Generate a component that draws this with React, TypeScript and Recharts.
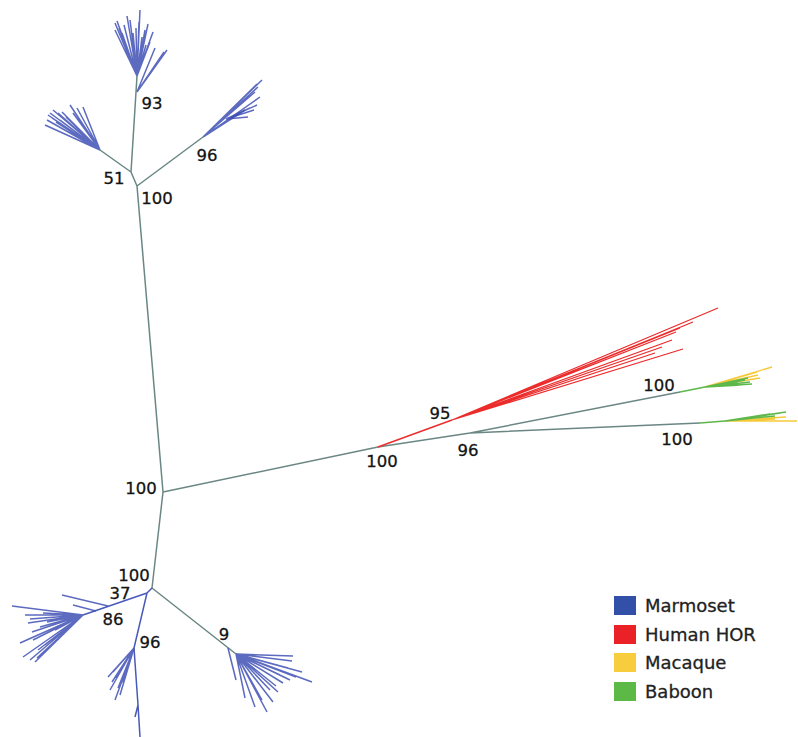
import { ComposedChart, Line, Scatter, XAxis, YAxis, Legend } from 'recharts';

// Tree layout (units = figure pixels, y grows downward)
const nodeNames = ['C', 'T', 'T51', 'T93', 'T93b', 'TL', 'T96', 'T96b', 'B', 'B37', 'B37a', 'B37b', 'B86', 'B96', 'B96s', 'B9', 'B9a', 'R', 'RH', 'R96', 'U', 'Ug', 'L', 'Lg'];
const nodeX = [163, 137, 131, 137, 137, 100, 203, 226, 152, 147, 108, 96, 83, 134, 138, 236, 228, 378, 452, 470, 680, 705, 700, 725];
const nodeY = [492, 186, 172, 76, 92, 150, 137, 119, 588, 593, 606, 611, 615, 648, 705, 654, 648, 447, 420, 433, 392, 387, 423, 421];

const grayEdges = [['C', 'T'], ['T', 'T51'], ['T', 'T96'], ['T51', 'T93'], ['T51', 'TL'], ['C', 'B'], ['B', 'B9'], ['C', 'R'], ['R', 'R96'], ['R96', 'U'], ['R96', 'L']];
const blueEdges = [['B', 'B37'], ['B37', 'B86'], ['B37', 'B96'], ['B96', 'B96s']];
const redEdges = [['R', 'RH']];
const greenEdges = [['U', 'Ug'], ['L', 'Lg']];

// leaf tips, grouped by the node they hang from
const topFanTips = [[115, 23], [117, 21], [119, 28], [122, 33], [124, 25], [127, 16], [130, 20], [133, 33], [136, 28], [140, 10], [142, 37], [145, 30], [148, 24], [150, 42], [153, 32], [146, 45], [115, 30], [139, 22]];
const topFanLowTips = [[167, 50], [162, 55], [158, 61], [155, 48], [164, 52]];
const leftFanTips = [[45, 125], [47, 120], [48, 115], [52, 118], [53, 110], [56, 122], [58, 113], [62, 112], [66, 117], [70, 105], [73, 113], [77, 108], [83, 107], [60, 120], [50, 113]];
const rightFanTips = [[262, 80], [258, 87], [255, 92], [260, 97], [253, 102], [245, 110], [240, 112], [250, 96], [257, 84]];
const rightFanLowTips = [[257, 105], [250, 108], [248, 117], [254, 110]];
const fan86Tips = [[12, 606], [20, 643], [23, 657], [25, 615], [28, 623], [30, 660], [32, 632], [35, 662], [37, 658], [38, 650], [40, 627], [43, 613], [45, 645], [50, 638], [55, 630], [33, 640], [30, 619], [47, 622]];
const fan86LongTips = [[62, 595]];
const fan86Long2Tips = [[73, 605]];
const fan96Tips = [[108, 677], [110, 690], [112, 682], [113, 672], [115, 700], [118, 688], [120, 695], [123, 683], [116, 678]];
const stem96Tips = [[140, 737], [135, 717]];
const fan9Tips = [[293, 656], [292, 661], [288, 668], [302, 672], [296, 677], [312, 682], [280, 675], [283, 683], [278, 692], [270, 690], [273, 702], [267, 712], [262, 700], [255, 707], [245, 698], [290, 680], [276, 686]];
const fan9SideTips = [[236, 680]];
const humanTips = [[718, 308], [693, 322], [680, 328], [676, 332], [672, 340], [662, 347], [683, 349], [655, 353]];
const upperYellowTips = [[772, 367], [758, 375], [760, 378], [757, 372]];
const upperGreenTips = [[750, 382], [752, 384], [742, 385], [745, 380], [738, 383], [748, 378]];
const lowerGreenTips = [[786, 412], [780, 413], [770, 414], [763, 415], [775, 416]];
const lowerYellowTips = [[786, 417], [797, 421], [775, 419], [760, 420]];

const supportText = ['93', '96', '51', '100', '100', '95', '100', '96', '100', '100', '100', '37', '86', '96', '9'];
const supportX = [152, 207, 114, 157, 141, 440, 382, 468, 659, 677, 134, 120, 113, 150, 224];
const supportY = [103, 155, 178, 198, 488, 413, 461, 450, 385, 439, 575, 593, 619, 642, 634];

const legendNames = ['Marmoset', 'Human HOR', 'Macaque', 'Baboon'];
const legendColors = ['#3350a9', '#ea2228', '#f8cd3d', '#5cb946'];

const GRAY = '#6a8784';
const BLUE = '#3f50b4';
const RED = '#ec2b2b';
const YELLOW = '#f5c93a';
const GREEN = '#5cb84a';

const node = (name: string) => {
  const i = nodeNames.indexOf(name);
  return { x: nodeX[i], y: nodeY[i] };
};

type Pt = { x: number; y: number | null };

function edgePoints(edges: string[][]): Pt[] {
  const out: Pt[] = [];
  edges.forEach(([a, b]) => {
    const p = node(a);
    const q = node(b);
    out.push(p, q, { x: q.x, y: null });
  });
  return out;
}

function fanPoints(base: string, tips: number[][]): Pt[] {
  const p = node(base);
  const out: Pt[] = [];
  tips.forEach(([x, y]) => {
    out.push(p, { x, y }, { x, y: null });
  });
  return out;
}

const series: { key: string; color: string; width: number; opacity: number; data: Pt[] }[] = [
  { key: 'gray', color: GRAY, width: 1.5, opacity: 1, data: edgePoints(grayEdges) },
  { key: 'blueEdges', color: BLUE, width: 1.5, opacity: 0.95, data: edgePoints(blueEdges) },
  { key: 'topFan', color: BLUE, width: 1.5, opacity: 0.85, data: fanPoints('T93', topFanTips) },
  { key: 'topFanLow', color: BLUE, width: 1.5, opacity: 0.85, data: fanPoints('T93b', topFanLowTips) },
  { key: 'leftFan', color: BLUE, width: 1.5, opacity: 0.85, data: fanPoints('TL', leftFanTips) },
  { key: 'rightFan', color: BLUE, width: 1.5, opacity: 0.85, data: fanPoints('T96', rightFanTips) },
  { key: 'rightFanLow', color: BLUE, width: 1.5, opacity: 0.85, data: fanPoints('T96b', rightFanLowTips) },
  { key: 'fan86', color: BLUE, width: 1.5, opacity: 0.85, data: fanPoints('B86', fan86Tips) },
  { key: 'fan86Long', color: BLUE, width: 1.4, opacity: 0.85, data: fanPoints('B37a', fan86LongTips) },
  { key: 'fan86Long2', color: BLUE, width: 1.4, opacity: 0.85, data: fanPoints('B37b', fan86Long2Tips) },
  { key: 'fan96', color: BLUE, width: 1.5, opacity: 0.85, data: fanPoints('B96', fan96Tips) },
  { key: 'stem96', color: BLUE, width: 1.5, opacity: 0.95, data: fanPoints('B96s', stem96Tips) },
  { key: 'fan9', color: BLUE, width: 1.5, opacity: 0.85, data: fanPoints('B9', fan9Tips) },
  { key: 'fan9Side', color: BLUE, width: 1.5, opacity: 0.85, data: fanPoints('B9a', fan9SideTips) },
  { key: 'redEdges', color: RED, width: 1.4, opacity: 1, data: edgePoints(redEdges) },
  { key: 'human', color: RED, width: 1.2, opacity: 1, data: fanPoints('RH', humanTips) },
  { key: 'upperYellow', color: YELLOW, width: 1.4, opacity: 1, data: fanPoints('Ug', upperYellowTips) },
  { key: 'lowerYellow', color: YELLOW, width: 1.4, opacity: 1, data: fanPoints('Lg', lowerYellowTips) },
  { key: 'greenEdges', color: GREEN, width: 1.6, opacity: 1, data: edgePoints(greenEdges) },
  { key: 'upperGreen', color: GREEN, width: 1.5, opacity: 1, data: fanPoints('Ug', upperGreenTips) },
  { key: 'lowerGreen', color: GREEN, width: 1.5, opacity: 1, data: fanPoints('Lg', lowerGreenTips) },
];

const supportData = supportText.map((text, i) => ({ x: supportX[i], y: supportY[i], text }));

const SupportLabel = (props: any) => (
  <text
    x={props.cx}
    y={props.cy}
    textAnchor="middle"
    dominantBaseline="central"
    fontSize={16.5}
    fontFamily="DejaVu Sans"
    fill="#141414"
    stroke="#141414"
    strokeWidth={0.3}
  >
    {props.payload.text}
  </text>
);

const LegendBox = () => (
  <div style={{ fontFamily: 'DejaVu Sans', fontSize: 18, color: '#222', WebkitTextStroke: '0.3px #222' }}>
    {legendNames.map((name, i) => (
      <div key={name} style={{ display: 'flex', alignItems: 'center', height: 28.7 }}>
        <span style={{ display: 'inline-block', width: 22, height: 19, background: legendColors[i], marginRight: 9 }} />
        <span>{name}</span>
      </div>
    ))}
  </div>
);

export default function App() {
  return (
    <div style={{ position: 'absolute', left: 0, top: 0, width: 798, height: 737, background: '#fff' }}>
      <ComposedChart width={798} height={737} margin={{ top: 0, right: 0, bottom: 0, left: 0 }}>
        <XAxis dataKey="x" type="number" domain={[0, 798]} hide allowDataOverflow />
        <YAxis dataKey="y" type="number" domain={[0, 737]} reversed hide allowDataOverflow />
        {series.map((s) => (
          <Line
            key={s.key}
            data={s.data}
            dataKey="y"
            type="linear"
            stroke={s.color}
            strokeWidth={s.width}
            strokeOpacity={s.opacity}
            dot={false}
            activeDot={false}
            connectNulls={false}
            isAnimationActive={false}
          />
        ))}
        <Scatter data={supportData} dataKey="y" shape={SupportLabel} isAnimationActive={false} />
        <Legend
          layout="vertical"
          align="center"
          verticalAlign="middle"
          content={LegendBox}
          wrapperStyle={{ left: 614, top: 591, width: 170 }}
        />
      </ComposedChart>
    </div>
  );
}
